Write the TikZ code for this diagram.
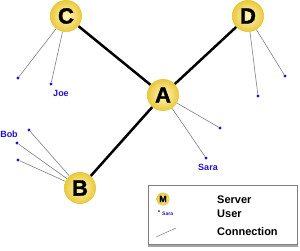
\documentclass[tikz,border=0pt]{standalone}
\usepackage{fontspec}
\setmainfont{Liberation Sans}
\newfontfamily\heavyfont[FakeBold=1.6]{Liberation Sans Bold}
\definecolor{userblue}{HTML}{2211CC}
\definecolor{ballin}{HTML}{FFF8C0}
\definecolor{ballout}{HTML}{EAC83A}
\begin{document}
\begin{tikzpicture}[x=1pt,y=-1pt,
  server/.style={circle,minimum size=32pt,inner sep=0pt,inner color=ballin,outer color=ballout,font=\fontsize{22}{22}\heavyfont},
  smallserver/.style={circle,minimum size=13pt,inner sep=0pt,inner color=ballin,outer color=ballout,font=\fontsize{9}{9}\heavyfont},
  user/.style={circle,fill=userblue,minimum size=3.4pt,inner sep=0pt},
  ulabel/.style={text=userblue,font=\fontsize{9}{9}\selectfont\bfseries,inner sep=0pt},
  link/.style={line width=2.5pt,black},
  ulink/.style={gray,line width=0.6pt},
  legtext/.style={font=\fontsize{11}{11}\selectfont\bfseries,anchor=west,inner sep=0pt}]
\useasboundingbox (0,0) rectangle (300,250);
\fill[white] (0,0) rectangle (300,250);
% servers
\node[server] (A) at (163,95) {A};
\node[server] (B) at (80,188) {B};
\node[server] (C) at (66,16) {C};
\node[server] (D) at (248,16) {D};
% users
\node[user] (c1) at (18,78) {};
\node[user] (c2) at (51,84) {};
\node[user] (d1) at (258,96) {};
\node[user] (d2) at (285,76) {};
\node[user] (a1) at (220,128) {};
\node[user] (a2) at (206,158) {};
\node[user] (b1) at (29,130) {};
\node[user] (b2) at (17,143) {};
\node[user] (b3) at (18,160) {};
\node[ulabel] (joe) at (61,93) {Joe};
\node[ulabel] (bob) at (9,134) {Bob};
\node[ulabel] (sara) at (208,167) {Sara};
% connections
\draw[link] (C) -- (A);
\draw[link] (D) -- (A);
\draw[link] (B) -- (A);
\foreach \u in {c1,c2} \draw[ulink] (C) -- (\u);
\foreach \u in {d1,d2} \draw[ulink] (D) -- (\u);
\foreach \u in {a1,a2} \draw[ulink] (A) -- (\u);
\foreach \u in {b1,b2,b3} \draw[ulink] (B) -- (\u);
% legend
\fill[gray!70] (148,187) rectangle (298,247);
\node[draw=gray,fill=white,line width=0.5pt,minimum width=149pt,minimum height=59pt,inner sep=0pt,anchor=north west] (leg) at (148,185) {};
\node[smallserver] (lm) at (163,199) {M};
\node[user,minimum size=2pt] (lu) at (159,211) {};
\node[text=userblue,font=\fontsize{5}{5}\selectfont\bfseries,anchor=west,inner sep=0pt] (lsara) at (162,214) {Sara};
\coordinate (lc1) at (156,237);
\coordinate (lc2) at (176,228);
\draw[ulink,line width=0.5pt] (lc1) -- (lc2);
\node[legtext] (ls) at (217,200) {Server};
\node[legtext] (lus) at (217,214) {User};
\node[legtext] (lcn) at (217,232) {Connection};
\end{tikzpicture}
\end{document}
